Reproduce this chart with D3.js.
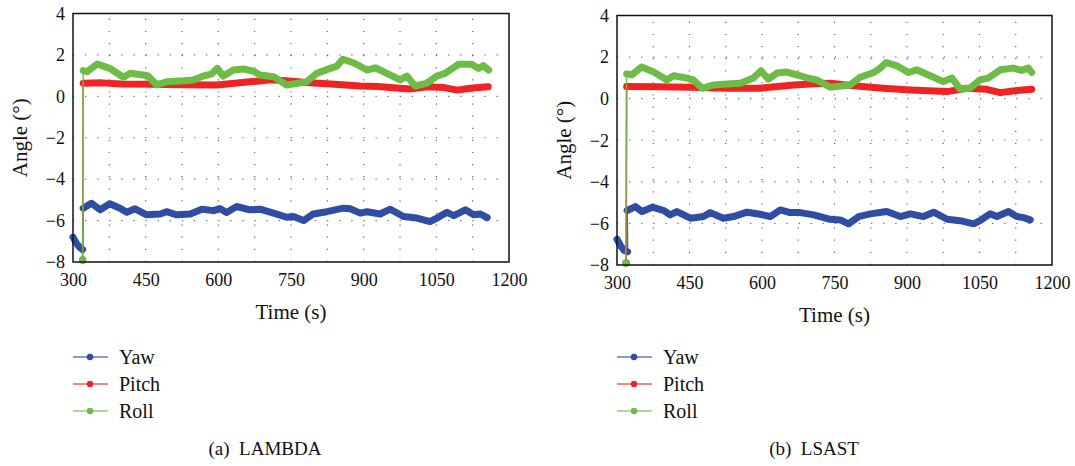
<!DOCTYPE html>
<html>
<head>
<meta charset="utf-8">
<script src="https://cdn.jsdelivr.net/npm/d3@7"></script>
<style>
  body { margin: 0; background: #fff; }
  svg text { font-family: "Liberation Serif", serif; fill: #111; }
</style>
</head>
<body>
<svg id="chart" width="1075" height="466"></svg>
<script>
// data: [time (s), angle (deg)]
const lambdaYaw = [[300,-6.8],[307,-7.1],[314,-7.3],[320,-7.4],
  [321,-5.4],[338,-5.16],[356,-5.48],[376,-5.19],[397,-5.4],[411,-5.6],[428,-5.43],[452,-5.72],[480,-5.68],[493,-5.57],[514,-5.72],[542,-5.68],[566,-5.45],[590,-5.52],[603,-5.42],[617,-5.61],[638,-5.32],[665,-5.48],[686,-5.45],[714,-5.64],[741,-5.84],[755,-5.8],[776,-6.0],[796,-5.68],[824,-5.57],[858,-5.4],[872,-5.43],[893,-5.64],[907,-5.57],[934,-5.68],[955,-5.45],[982,-5.8],[1010,-5.88],[1037,-6.05],[1051,-5.88],[1072,-5.6],[1086,-5.76],[1110,-5.48],[1127,-5.72],[1141,-5.68],[1155,-5.86]];
const lambdaPitch = [[320,-7.9],[321,0.63],[360,0.65],[400,0.6],[459,0.58],[520,0.56],[597,0.55],[665,0.7],[686,0.74],[707,0.8],[740,0.75],[789,0.66],[840,0.58],[893,0.5],[930,0.47],[961,0.42],[996,0.35],[1031,0.46],[1064,0.43],[1093,0.3],[1120,0.39],[1157,0.46]];
const lambdaRoll = [[320,-7.9],[321,1.24],[329,1.19],[350,1.56],[376,1.35],[404,0.92],[418,1.11],[445,1.03],[455,0.98],[473,0.55],[493,0.7],[528,0.75],[548,0.79],[569,0.98],[586,1.08],[598,1.35],[610,0.98],[631,1.27],[652,1.32],[672,1.22],[686,1.03],[714,0.95],[741,0.55],[782,0.7],[803,1.11],[831,1.35],[845,1.46],[857,1.79],[879,1.62],[907,1.27],[924,1.38],[948,1.11],[975,0.79],[989,0.98],[1006,0.5],[1030,0.63],[1051,0.98],[1068,1.11],[1096,1.55],[1123,1.55],[1137,1.35],[1147,1.48],[1158,1.27]];

const lsastYaw = [[300,-6.76],[308,-7.1],[315,-7.3],[322,-7.36],
  [321,-5.38],[338,-5.19],[352,-5.43],[373,-5.22],[397,-5.38],[410,-5.59],[424,-5.43],[452,-5.75],[479,-5.67],[493,-5.48],[520,-5.75],[541,-5.67],[569,-5.46],[596,-5.56],[617,-5.67],[638,-5.35],[658,-5.48],[679,-5.48],[707,-5.59],[741,-5.8],[762,-5.83],[779,-6.02],[800,-5.67],[824,-5.54],[858,-5.43],[886,-5.67],[907,-5.54],[934,-5.67],[955,-5.46],[983,-5.8],[1010,-5.87],[1038,-6.02],[1051,-5.87],[1072,-5.54],[1086,-5.67],[1110,-5.43],[1127,-5.67],[1141,-5.72],[1155,-5.83]];
const lsastPitch = [[319,-7.9],[320,0.58],[380,0.57],[451,0.55],[527,0.5],[596,0.5],[665,0.66],[700,0.7],[741,0.74],[789,0.62],[851,0.5],[907,0.42],[983,0.34],[1024,0.5],[1065,0.45],[1093,0.29],[1127,0.39],[1158,0.45]];
const lsastRoll = [[318,-7.92],[320,1.19],[331,1.15],[351,1.52],[375,1.3],[403,0.9],[417,1.1],[445,0.99],[458,0.9],[476,0.5],[500,0.66],[527,0.71],[555,0.74],[582,0.99],[598,1.34],[613,0.94],[631,1.23],[651,1.28],[672,1.15],[693,1.0],[713,0.9],[741,0.55],[782,0.66],[803,1.03],[831,1.26],[845,1.47],[857,1.74],[879,1.58],[903,1.26],[920,1.39],[948,1.1],[975,0.82],[993,0.99],[1010,0.46],[1030,0.5],[1051,0.9],[1068,0.99],[1093,1.39],[1120,1.47],[1137,1.36],[1151,1.47],[1158,1.26]];

const seriesNames = ['Yaw', 'Pitch', 'Roll'];
const seriesColors = ['#2f4ea3', '#ee2424', '#6cbc45'];
const xTicks = [300, 450, 600, 750, 900, 1050, 1200];
const yTicks = [-8, -6, -4, -2, 0, 2, 4];
const xGrid = [375, 450, 525, 600, 675, 750, 825, 900, 975, 1050, 1125];
const yGrid = [-6, -4, -2, 0, 2];

const panels = [
  { caption: '(a)  LAMBDA', data: [lambdaYaw, lambdaPitch, lambdaRoll], left: 73, right: 509, top: 13.5, bottom: 262, capX: 265 },
  { caption: '(b)  LSAST', data: [lsastYaw, lsastPitch, lsastRoll], left: 617, right: 1052, top: 15.5, bottom: 265, capX: 814 }
];

const svg = d3.select('#chart');

// split a series where it jumps, so the jump is drawn as a thin line only
function segments(pts) {
  const out = [[pts[0]]];
  for (let i = 1; i < pts.length; i++) {
    if (Math.abs(pts[i][1] - pts[i - 1][1]) > 1.5) out.push([]);
    out[out.length - 1].push(pts[i]);
  }
  return out;
}

panels.forEach(p => {
  const g = svg.append('g');
  const x = d3.scaleLinear().domain([300, 1200]).range([p.left, p.right]);
  const y = d3.scaleLinear().domain([-8, 4]).range([p.bottom, p.top]);

  // dotted grid
  g.append('g').selectAll('line')
    .data(xGrid).join('line')
    .attr('x1', d => x(d)).attr('x2', d => x(d))
    .attr('y1', p.bottom).attr('y2', p.top)
    .attr('stroke', '#666').attr('stroke-width', 1.2)
    .attr('stroke-dasharray', '1.2,10.9');
  g.append('g').selectAll('line')
    .data(yGrid).join('line')
    .attr('x1', p.left).attr('x2', p.right)
    .attr('y1', d => y(d)).attr('y2', d => y(d))
    .attr('stroke', '#666').attr('stroke-width', 1.2)
    .attr('stroke-dasharray', '1.2,10.9');

  const line = d3.line().x(d => x(d[0])).y(d => y(d[1]));

  p.data.forEach((pts, i) => {
    const col = seriesColors[i];
    // thin connecting line
    g.append('path').attr('d', line(pts))
      .attr('fill', 'none').attr('stroke', col).attr('stroke-width', 1.6)
      .attr('opacity', 0.85);
    // dense markers look like a thick band
    segments(pts).forEach(seg => {
      if (seg.length === 1) {
        g.append('circle').attr('cx', x(seg[0][0])).attr('cy', y(seg[0][1]))
          .attr('r', 3.6).attr('fill', col);
      } else {
        g.append('path').attr('d', line(seg))
          .attr('fill', 'none').attr('stroke', col).attr('stroke-width', 7)
          .attr('stroke-linejoin', 'round').attr('stroke-linecap', 'round');
      }
    });
  });

  // frame
  g.append('rect')
    .attr('x', p.left).attr('y', p.top)
    .attr('width', p.right - p.left).attr('height', p.bottom - p.top)
    .attr('fill', 'none').attr('stroke', '#111').attr('stroke-width', 1.5);

  // axes (labels only, no tick marks)
  const xAxis = g.append('g')
    .attr('transform', `translate(0,${p.bottom})`)
    .call(d3.axisBottom(x).tickValues(xTicks).tickSize(0).tickPadding(11).tickFormat(d3.format('d')));
  const yAxis = g.append('g')
    .attr('transform', `translate(${p.left},0)`)
    .call(d3.axisLeft(y).tickValues(yTicks).tickSize(0).tickPadding(8)
      .tickFormat(d => d < 0 ? '\u2212' + Math.abs(d) : d));
  [xAxis, yAxis].forEach(a => {
    a.attr('font-family', null);
    a.select('.domain').remove();
    a.selectAll('text').attr('font-size', 18).attr('fill', '#111');
  });

  g.append('text')
    .attr('x', (p.left + p.right) / 2).attr('y', p.bottom + 57)
    .attr('text-anchor', 'middle').attr('font-size', 21)
    .text('Time (s)');
  g.append('text')
    .attr('transform', `translate(${p.left - 46},${(p.top + p.bottom) / 2}) rotate(-90)`)
    .attr('text-anchor', 'middle').attr('font-size', 21)
    .text('Angle (\u00b0)');

  // legend
  const legend = g.append('g').attr('transform', `translate(${p.left},357)`);
  const items = legend.selectAll('g').data(seriesNames).join('g')
    .attr('transform', (d, i) => `translate(0,${i * 27})`);
  items.append('line').attr('x1', 0).attr('x2', 35)
    .attr('stroke', (d, i) => seriesColors[i]).attr('stroke-width', 1.6).attr('opacity', 0.75);
  items.append('circle').attr('cx', 17).attr('r', 3.2)
    .attr('fill', (d, i) => seriesColors[i]);
  items.append('text').attr('x', 46).attr('dy', '0.33em')
    .attr('font-size', 20).text(d => d);

  // caption
  g.append('text')
    .attr('x', p.capX).attr('y', 455)
    .attr('text-anchor', 'middle').attr('font-size', 19)
    .style('white-space', 'pre')
    .text(p.caption);
});
</script>
</body>
</html>
